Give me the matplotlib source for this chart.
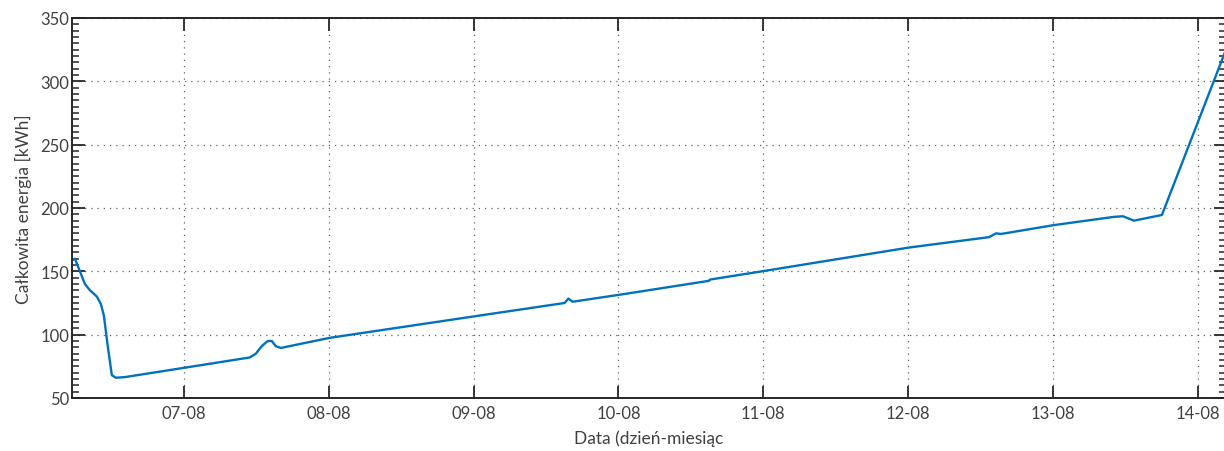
import matplotlib
matplotlib.use("Agg")
import matplotlib.pyplot as plt
import matplotlib.dates as mdates
from matplotlib.ticker import MultipleLocator
import pandas as pd

# ---- data ----
times = [
    "2015-08-06 05:37", "2015-08-06 05:57", "2015-08-06 06:47", "2015-08-06 07:36",
    "2015-08-06 08:27", "2015-08-06 09:36", "2015-08-06 10:16", "2015-08-06 10:45",
    "2015-08-06 11:25", "2015-08-06 12:04", "2015-08-06 12:45", "2015-08-06 14:14",
    "2015-08-07 00:00", "2015-08-07 10:55", "2015-08-07 11:56", "2015-08-07 12:55",
    "2015-08-07 13:54", "2015-08-07 14:34", "2015-08-07 15:13", "2015-08-07 16:03",
    "2015-08-08 00:10", "2015-08-09 00:10", "2015-08-09 15:04", "2015-08-09 15:43",
    "2015-08-09 16:24", "2015-08-10 00:10", "2015-08-10 15:00", "2015-08-10 15:10",
    "2015-08-11 00:10", "2015-08-12 00:10", "2015-08-12 13:25", "2015-08-12 14:34",
    "2015-08-12 15:23", "2015-08-13 00:10", "2015-08-13 10:06", "2015-08-13 11:35",
    "2015-08-13 13:25", "2015-08-13 18:03", "2015-08-14 04:30",
]
energy_kwh = [
    159, 160, 150, 140,
    135, 130, 124, 115,
    90, 68, 66, 66.5,
    73.8, 82, 85, 91,
    95, 95, 91, 89.5,
    97.5, 114.5, 125, 128.5,
    126, 131.5, 142.5, 143.5,
    150.3, 168.8, 177, 180,
    179.5, 186.5, 193, 193.5,
    190, 194.5, 323,
]
x_start = "2015-08-06 05:28"
x_end = "2015-08-14 04:40"
y_ticks = [50, 100, 150, 200, 250, 300, 350]

x_label = "Data (dzień-miesiąc"
y_label = "Całkowita energia [kWh]"

# ---- plotting ----
plt.rcParams['font.family'] = ['Lato', 'DejaVu Sans']
W, H = 1224, 452
fig = plt.figure(figsize=(W / 100, H / 100), dpi=100)
left, right, top, bottom = 72, 1226, 19, 399
ax = fig.add_axes([left / W, 1 - bottom / H, (right - left) / W, (bottom - top) / H])

t = pd.to_datetime(times)
ax.plot(t, energy_kwh, color="#0072BD", lw=1.7, solid_joinstyle="round")

ax.set_xlim(pd.Timestamp(x_start), pd.Timestamp(x_end))
ax.set_ylim(y_ticks[0], y_ticks[-1])
ax.set_yticks(y_ticks)
ax.yaxis.set_minor_locator(MultipleLocator(5))
ax.xaxis.set_major_locator(mdates.DayLocator())
ax.xaxis.set_major_formatter(mdates.DateFormatter("%d-%m"))

txt_color = "#404040"
ax.tick_params(axis="both", which="major", direction="in", length=9, width=1.3,
               colors="#262626", labelcolor=txt_color, labelsize=12,
               top=True, right=True, pad=5)
ax.tick_params(axis="y", which="minor", direction="in", length=5, width=1.1,
               colors="#262626", left=True, right=True)
ax.tick_params(axis="y", which="major", pad=2)

for s in ax.spines.values():
    s.set_color("#262626")
    s.set_linewidth(1.4)

ax.grid(True, which="major", color="#606060", linestyle=(0, (1, 4)), linewidth=0.9)
ax.set_axisbelow(True)

ax.set_xlabel(x_label, fontsize=12.5, color=txt_color, labelpad=6)
ax.set_ylabel(y_label, fontsize=12.5, color=txt_color, labelpad=6)

fig.savefig("out.png", dpi=100)
